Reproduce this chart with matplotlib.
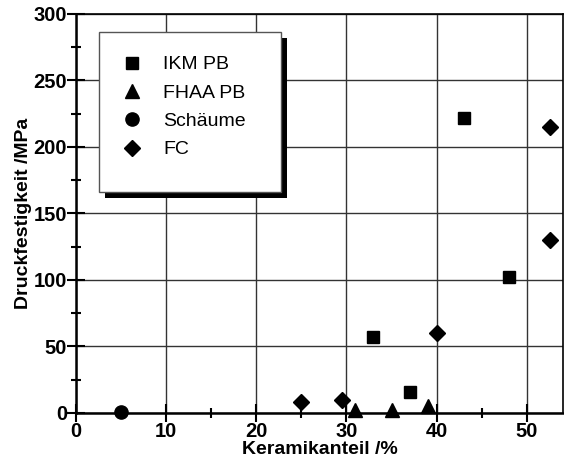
import matplotlib
matplotlib.use("Agg")
import matplotlib.pyplot as plt
from matplotlib.patches import Rectangle
from matplotlib.ticker import MultipleLocator

plt.rcParams['font.family'] = ['Liberation Sans', 'DejaVu Sans']

# data
ikm_x = [33, 37, 43, 48]
ikm_y = [57, 16, 222, 102]
fhaa_x = [31, 35, 39]
fhaa_y = [2, 2, 5]
schaum_x = [5]
schaum_y = [1]
fc_x = [25, 29.5, 40, 52.6, 52.6]
fc_y = [8, 10, 60, 130, 215]

fig = plt.figure(figsize=(5.64, 4.63), dpi=100)
ax = fig.add_axes([0.1348, 0.108, 0.863, 0.862])

ax.set_xlim(0, 54)
ax.set_ylim(0, 300)
ax.xaxis.set_major_locator(MultipleLocator(10))
ax.xaxis.set_minor_locator(MultipleLocator(5))
ax.yaxis.set_major_locator(MultipleLocator(50))
ax.yaxis.set_minor_locator(MultipleLocator(25))
ax.grid(True, which='major', color='#333333', linewidth=1.0, zorder=0)
ax.set_axisbelow(True)
ax.tick_params(which='major', direction='inout', length=13, width=1.5,
               labelsize=14.5, pad=0)
ax.tick_params(which='minor', direction='inout', length=7, width=1.5)
for lab in ax.get_xticklabels() + ax.get_yticklabels():
    lab.set_fontweight('bold')
for s in ax.spines.values():
    s.set_linewidth(1.2)
ax.spines['left'].set_linewidth(1.8)
ax.spines['bottom'].set_linewidth(1.8)

ax.set_xlabel('Keramikanteil /%', fontsize=14, fontweight='bold', labelpad=0)
ax.set_ylabel('Druckfestigkeit /MPa', fontsize=14, fontweight='bold', labelpad=1)

kw = dict(linestyle='none', color='black', clip_on=False, zorder=3)
ax.plot(ikm_x, ikm_y, marker='s', markersize=9, label='IKM PB', **kw)
ax.plot(fhaa_x, fhaa_y, marker='^', markersize=10, label='FHAA PB', **kw)
ax.plot(schaum_x, schaum_y, marker='o', markersize=9.5, label='Schäume', **kw)
ax.plot(fc_x, fc_y, marker='D', markersize=8, label='FC', **kw)

# legend box with hard black shadow
ax.add_patch(Rectangle((0.059, 0.539), 0.374, 0.401, transform=ax.transAxes,
                       facecolor='black', edgecolor='none', zorder=4))
ax.add_patch(Rectangle((0.047, 0.554), 0.374, 0.401, transform=ax.transAxes,
                       facecolor='white', edgecolor='#555555', linewidth=1, zorder=5))
leg = ax.legend(loc='upper left', bbox_to_anchor=(0.095, 0.895), frameon=False,
                fontsize=14, labelspacing=0.55, handletextpad=1.1,
                handlelength=1.0, borderpad=0, borderaxespad=0)
leg.set_zorder(6)

fig.savefig('out.png', dpi=100)
